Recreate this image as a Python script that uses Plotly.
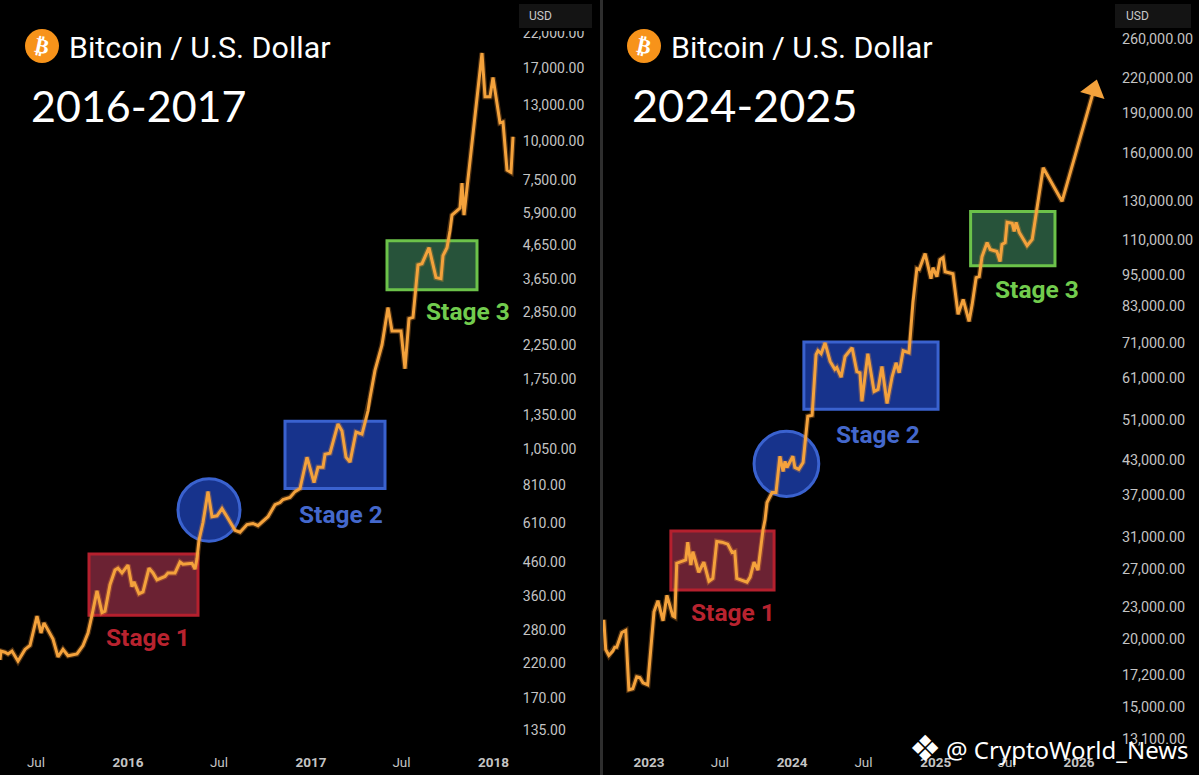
import plotly.graph_objects as go

W = 1199
H = 775

# 2015-2018 weekly-ish closes
dates_a = ['2015-04-20','2015-04-22','2015-04-30','2015-05-06','2015-05-14','2015-05-26','2015-06-09','2015-06-19',
           '2015-07-03','2015-07-11','2015-07-17','2015-07-25','2015-08-04','2015-08-14','2015-08-24','2015-09-03',
           '2015-09-21','2015-10-03','2015-10-13','2015-10-21','2015-10-31','2015-11-10','2015-11-16','2015-11-26',
           '2015-12-06','2015-12-12','2015-12-20','2016-01-01','2016-01-09','2016-01-13','2016-01-23','2016-01-31',
           '2016-02-12','2016-02-20','2016-02-28','2016-03-15','2016-03-21','2016-04-04','2016-04-14','2016-04-20',
           '2016-05-08','2016-05-14','2016-05-18','2016-05-22','2016-05-30','2016-06-09','2016-06-17','2016-06-27',
           '2016-07-07','2016-07-17','2016-08-02','2016-08-12','2016-08-26','2016-09-07','2016-09-17','2016-10-07',
           '2016-10-21','2016-10-31','2016-11-06','2016-11-20','2016-11-30','2016-12-10','2016-12-24','2017-01-07',
           '2017-01-15','2017-01-25','2017-01-29','2017-02-08','2017-02-24','2017-03-04','2017-03-12','2017-03-20',
           '2017-04-01','2017-04-13','2017-04-25','2017-04-29','2017-05-09','2017-05-23','2017-06-04','2017-06-12',
           '2017-06-30','2017-07-08','2017-07-16','2017-07-24','2017-08-03','2017-08-11','2017-08-25','2017-09-08',
           '2017-09-18','2017-09-22','2017-09-30','2017-10-06','2017-10-10','2017-10-26','2017-10-30','2017-11-03',
           '2017-12-09','2017-12-15','2017-12-25','2017-12-31','2018-01-14','2018-01-20','2018-01-28','2018-02-05',
           '2018-02-09']
price_a = [225,240,238,235,240,223,243,250,
           310,274,295,280,262,230,243,232,
           235,250,274,312,373,318,321,390,
           434,440,425,450,384,398,365,370,
           440,425,404,414,425,425,460,453,
           456,437,472,540,614,770,641,645,
           680,641,580,572,605,610,600,641,
           700,711,727,738,770,787,990,822,
           920,920,1012,1020,1263,1200,990,955,
           1190,1172,1390,1528,1867,2250,2955,2490,
           2490,1890,2727,2750,4040,4075,4580,3680,
           3650,4320,4580,5180,5810,6120,7340,5810,
           19000,13790,13790,15900,11400,11480,8070,7940,
           10300]

# 2022-2025 closes, last three are the projection
dates_b = ['2022-09-08','2022-09-13','2022-09-21','2022-10-01','2022-10-06','2022-10-11','2022-10-24','2022-11-03',
           '2022-11-11','2022-11-21','2022-12-01','2022-12-09','2022-12-17','2022-12-29','2023-01-14','2023-01-24',
           '2023-02-06','2023-02-16','2023-03-03','2023-03-08','2023-03-13','2023-03-29','2023-04-05','2023-04-10',
           '2023-04-18','2023-04-23','2023-05-08','2023-05-21','2023-06-03','2023-06-13','2023-06-23','2023-07-06',
           '2023-07-21','2023-08-01','2023-08-08','2023-08-13','2023-08-31','2023-09-08','2023-09-16','2023-09-26',
           '2023-10-06','2023-10-19','2023-10-24','2023-10-29','2023-11-11','2023-11-21','2023-12-01','2023-12-09',
           '2023-12-14','2023-12-19','2024-01-03','2024-01-08','2024-01-18','2024-01-29','2024-02-10','2024-02-21',
           '2024-03-02','2024-03-07','2024-03-15','2024-03-25','2024-04-07','2024-04-19','2024-04-24','2024-05-05',
           '2024-05-15','2024-06-02','2024-06-14','2024-06-22','2024-06-27','2024-07-12','2024-07-28','2024-08-07',
           '2024-08-17','2024-08-30','2024-09-12','2024-09-22','2024-09-30','2024-10-10','2024-10-25','2024-10-28',
           '2024-11-04','2024-11-14','2024-11-20','2024-12-05','2024-12-20','2024-12-25','2025-01-04','2025-01-12',
           '2025-01-20','2025-01-25','2025-02-14','2025-02-27','2025-03-12','2025-03-27','2025-04-04','2025-04-14',
           '2025-04-22','2025-04-29','2025-05-12','2025-05-20','2025-06-06','2025-06-14','2025-06-19','2025-06-27',
           '2025-07-02','2025-07-15','2025-07-20','2025-07-25','2025-08-02','2025-08-22','2025-09-04','2025-10-02',
           '2025-11-19','2026-02-08']
price_b = [21750,19160,18680,19030,19350,19350,20600,20780,
           16130,16200,17050,17000,16620,16480,22500,23600,
           21650,24150,22100,22000,27700,27950,28100,30300,
           27470,29100,26650,27830,25650,25950,30400,30300,
           30050,29000,29100,25950,25650,25550,26100,27830,
           26900,32000,33340,35900,37470,37470,43740,41000,
           42800,41700,43740,41700,41350,42600,51880,52100,
           67500,68650,67800,71000,65600,63400,63900,61300,
           67000,69550,62800,62500,55300,67800,57700,58200,
           64200,54800,61500,65200,62500,68650,68100,71900,
           84400,97500,97100,104000,93400,97900,94200,101300,
           102200,96200,95400,80200,85500,77800,83700,93800,
           94200,102600,109000,105800,104900,100500,108100,109000,
           118800,118300,114300,118800,113800,107600,110500,150000,
           130000,209000]

ticks_a = [22000,17000,13000,10000,7500,5900,4650,3650,2850,2250,1750,1350,1050,810,610,460,360,280,220,170,135]
ticks_b = [260000,220000,190000,160000,130000,110000,95000,83000,71000,61000,51000,43000,37000,31000,27000,23000,20000,17200,15000,13100]

xticks_a = ['2015-07-01','2016-01-01','2016-07-01','2017-01-01','2017-07-01','2018-01-01']
xlabels_a = ['Jul','<b>2016</b>','Jul','<b>2017</b>','Jul','<b>2018</b>']
xticks_b = ['2023-01-01','2023-07-01','2024-01-01','2024-07-01','2025-01-01','2025-07-01','2026-01-01']
xlabels_b = ['<b>2023</b>','Jul','<b>2024</b>','Jul','<b>2025</b>','Jul','<b>2026</b>']

# stage zones: name, start, end, low, high
stages_a = [('Stage 1','2015-10-15','2016-05-20',312,488),
            ('Stage 2','2016-11-10','2017-05-29',787,1288),
            ('Stage 3','2017-06-02','2017-11-29',3370,4820)]
stages_b = [('Stage 1','2023-02-26','2023-11-16',24700,31800),
            ('Stage 2','2024-01-31','2025-01-07',53450,71300),
            ('Stage 3','2025-03-31','2025-11-01',98700,124500)]
circle_a = ('2016-04-10','2016-08-12',536,846)
circle_b = ('2023-09-26','2024-03-09',36850,48650)

ORANGE = '#F4A23C'
GLOW = 'rgba(244,150,50,0.30)'
FILLS = {'Stage 1': ('#6B2233','#B5202E'), 'Stage 2': ('#17338C','#3A62CF'), 'Stage 3': ('#27533A','#6CC24A')}
LABEL_COL = {'Stage 1': '#B8232F', 'Stage 2': '#4468CC', 'Stage 3': '#72CC4E'}
LABEL_POS_A = {'Stage 1': (148,637), 'Stage 2': (341,514), 'Stage 3': (468,311)}
LABEL_POS_B = {'Stage 1': (733,612), 'Stage 2': (878,434), 'Stage 3': (1037,289)}


def px(x):
    return x / W


def py(y):
    return 1 - y / H


def note(text, x, y, size, color='white', family='Roboto', anchor='left', angle=0):
    return dict(text=text, x=px(x), y=py(y), xref='paper', yref='paper', showarrow=False,
                xanchor=anchor, yanchor='middle', textangle=angle,
                font=dict(family=family, size=size, color=color))


def paper_rect(x0, y0, x1, y1, color, kind='rect'):
    return dict(type=kind, xref='paper', yref='paper', x0=px(x0), x1=px(x1), y0=py(y0), y1=py(y1),
                fillcolor=color, line=dict(width=0), layer='above')


fig = go.Figure()
for xs, ys, xa, ya in [(dates_a, price_a, 'x', 'y'), (dates_b, price_b, 'x2', 'y2')]:
    fig.add_trace(go.Scatter(x=xs, y=ys, mode='lines', line=dict(color=GLOW, width=5.5),
                             xaxis=xa, yaxis=ya, showlegend=False))
    fig.add_trace(go.Scatter(x=xs, y=ys, mode='lines', line=dict(color=ORANGE, width=3),
                             xaxis=xa, yaxis=ya, showlegend=False))
# arrow head at the end of the projection
fig.add_trace(go.Scatter(x=dates_b[-2:], y=price_b[-2:], mode='markers', xaxis='x2', yaxis='y2', showlegend=False,
                         marker=dict(symbol='triangle-up', size=[0, 22], color=ORANGE, angleref='previous',
                                     opacity=1, line=dict(width=0))))

shapes = []
annots = []
for stages, xr, yr, pos in [(stages_a, 'x', 'y', LABEL_POS_A), (stages_b, 'x2', 'y2', LABEL_POS_B)]:
    for name, start, end, low, high in stages:
        shapes.append(dict(type='rect', xref=xr, yref=yr, x0=start, x1=end, y0=low, y1=high, layer='below',
                           fillcolor=FILLS[name][0], line=dict(color=FILLS[name][1], width=3)))
        annots.append(note('<b>' + name + '</b>', pos[name][0], pos[name][1], 24.5, LABEL_COL[name], 'Roboto', 'center'))
for circ, xr, yr in [(circle_a, 'x', 'y'), (circle_b, 'x2', 'y2')]:
    shapes.append(dict(type='circle', xref=xr, yref=yr, x0=circ[0], x1=circ[1], y0=circ[2], y1=circ[3], layer='below',
                       fillcolor='#17338C', line=dict(color='#3A62CF', width=3)))

# divider, header pills, logos
shapes.append(paper_rect(600, 0, 603, H, '#2E2E2E'))
shapes.append(paper_rect(519, 0, 598, 31, '#000000'))
shapes.append(paper_rect(519, 4, 592, 28, '#141414'))
shapes.append(paper_rect(1115, 4, 1191, 28, '#141414'))
shapes.append(paper_rect(25, 29, 59, 63, '#F7931A', 'circle'))
shapes.append(paper_rect(627, 29, 661, 63, '#F7931A', 'circle'))

annots.append(note('<b>₿</b>', 42, 46, 21, 'white', 'DejaVu Sans', 'center', 12))
annots.append(note('<b>₿</b>', 644, 46, 21, 'white', 'DejaVu Sans', 'center', 12))
annots.append(note('Bitcoin / U.S. Dollar', 67, 47, 30.4))
annots.append(note('Bitcoin / U.S. Dollar', 669, 47, 30.4))
annots.append(note('2016-2017', 29, 106, 43, family='Lato'))
annots.append(note('2024-2025', 630, 105, 45, family='Lato'))
annots.append(note('USD', 527, 16, 12, '#C8C8C8'))
annots.append(note('USD', 1124, 16, 12, '#C8C8C8'))
annots.append(note('❖', 925, 748, 36, 'white', 'DejaVu Sans', 'center'))
annots.append(note('@ CryptoWorld_News', 944, 749, 24, 'white', 'Noto Sans'))

font_a = dict(family='Roboto', size=14, color='#C4C4C4')
font_b = dict(family='Roboto', size=14.4, color='#C4C4C4')
xkw = dict(type='date', showgrid=False, zeroline=False, showline=False, tickmode='array',
           ticks='outside', ticklen=2, tickcolor='#000000', tickfont=dict(family='Roboto', size=13.5, color='#C4C4C4'))
ykw = dict(type='log', side='right', showgrid=False, zeroline=False, showline=False, tickmode='array',
           ticks='outside', ticklen=3, tickcolor='#000000')

fig.update_layout(
    width=W, height=H, margin=dict(l=0, r=0, t=0, b=0),
    paper_bgcolor='#000000', plot_bgcolor='#000000', showlegend=False,
    xaxis=dict(domain=[0, px(516)], range=['2015-04-20', '2018-02-15'], tickvals=xticks_a, ticktext=xlabels_a,
               anchor='y', **xkw),
    yaxis=dict(domain=[(H - 748) / H, 1], range=[2.0726, 4.447], tickvals=ticks_a, tickfont=font_a,
               ticktext=[f'{v:,.2f}' for v in ticks_a], anchor='x', **ykw),
    xaxis2=dict(domain=[px(603), px(1115)], range=['2022-09-06', '2026-04-03'], tickvals=xticks_b, ticktext=xlabels_b,
                anchor='y2', **xkw),
    yaxis2=dict(domain=[(H - 748) / H, 1], range=[4.0996, 5.4874], tickvals=ticks_b, tickfont=font_b,
                ticktext=[f'{v:,.2f}' for v in ticks_b], anchor='x2', **ykw),
    shapes=shapes, annotations=annots,
)

fig.write_html("out.html", config=dict(displayModeBar=False),
               post_script="document.body.style.margin='0';document.body.style.background='#000';")
